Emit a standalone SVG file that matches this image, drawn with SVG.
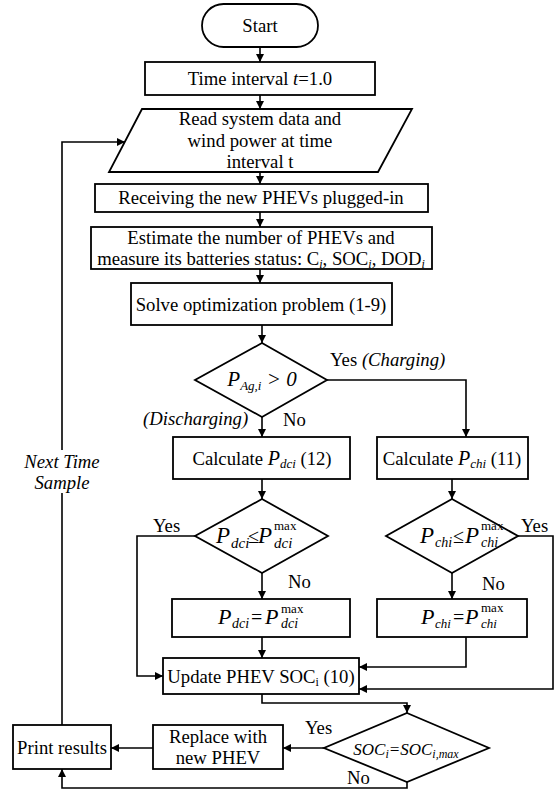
<svg xmlns="http://www.w3.org/2000/svg" width="555" height="791" viewBox="0 0 555 791" font-family="Liberation Serif, Times New Roman, serif" font-size="18.7">
<style>
.bx{fill:#fff;stroke:#000;stroke-width:1.8}
.ln{fill:none;stroke:#000;stroke-width:1.6}
.ar{marker-end:url(#ah)}
.it{font-style:italic}
.m{text-anchor:middle}
</style>
<defs>
<marker id="ah" viewBox="0 0 10 10" refX="10" refY="5" markerWidth="9" markerHeight="8" markerUnits="userSpaceOnUse" orient="auto">
<path d="M0,0 L10,5 L0,10 z" fill="#000"/>
</marker>
</defs>
<rect width="555" height="791" fill="#fff"/>
<g id="connectors">
<path class="ln ar" d="M260,47 V62"/>
<path class="ln ar" d="M260,95 V109"/>
<path class="ln ar" d="M260,172 V184"/>
<path class="ln ar" d="M260,212 V227"/>
<path class="ln ar" d="M260,269 V283"/>
<path class="ln ar" d="M262,325 V343"/>
<path class="ln ar" d="M262,417 V437"/>
<path class="ln ar" d="M327,380 H466 V437"/>
<path class="ln ar" d="M262,479 V499"/>
<path class="ln ar" d="M452,479 V499"/>
<path class="ln ar" d="M262,573 V599"/>
<path class="ln ar" d="M452,573 V599"/>
<path class="ln ar" d="M195,536 H137 V676 H163"/>
<path class="ln ar" d="M262,637 V658"/>
<path class="ln ar" d="M466,637 V667 H359"/>
<path class="ln ar" d="M518,536 H553 V689 H359"/>
<path class="ln ar" d="M262,694 V703 H407 V713"/>
<path class="ln ar" d="M324,748 H283"/>
<path class="ln ar" d="M153,748 H111"/>
<path class="ln ar" d="M407,782 V788 H62 V769"/>
<path class="ln" d="M62,725 V493"/>
<path class="ln ar" d="M62,450 V142 H125"/>
<text class="it m" x="62" y="468">Next Time</text>
<text class="it m" x="62" y="489">Sample</text>
<text x="330" y="366">Yes <tspan class="it">(Charging)</tspan></text>
<text class="it" x="143" y="425">(Discharging)</text>
<text x="283" y="426">No</text>
<text x="153" y="532">Yes</text>
<text x="288" y="588">No</text>
<text x="521" y="532">Yes</text>
<text x="482" y="590">No</text>
<text x="305" y="734">Yes</text>
<text x="347" y="784">No</text>
</g>
<g id="start">
<rect class="bx" x="202" y="4" width="116" height="43" rx="21.5"/>
<text class="m" x="260" y="32">Start</text>
</g>
<g id="time">
<rect class="bx" x="145" y="62" width="230" height="33"/>
<text class="m" x="260" y="85">Time interval <tspan class="it">t</tspan>=1.0</text>
</g>
<g id="read">
<polygon class="bx" points="142,109 412,109 378,172 109,172"/>
<text class="m" x="260" y="125">Read system data and</text>
<text class="m" x="260" y="147">wind power at time</text>
<text class="m" x="260" y="168">interval t</text>
</g>
<g id="receive">
<rect class="bx" x="95" y="184" width="333" height="28"/>
<text class="m" x="261" y="204">Receiving the new PHEVs plugged-in</text>
</g>
<g id="estimate">
<rect class="bx" x="91" y="227" width="341" height="42"/>
<text class="m" x="261" y="244">Estimate the number of PHEVs and</text>
<text class="m" x="261" y="265">measure its batteries status: C<tspan class="it" font-size="12" dy="3">i</tspan><tspan dy="-3">, SOC</tspan><tspan class="it" font-size="12" dy="3">i</tspan><tspan dy="-3">, DOD</tspan><tspan class="it" font-size="12" dy="3">i</tspan></text>
</g>
<g id="solve">
<rect class="bx" x="131" y="283" width="261" height="42"/>
<text class="m" x="261" y="311">Solve optimization problem (1-9)</text>
</g>
<g id="dec-pag">
<polygon class="bx" points="262,343 327,380 262,417 195,380"/>
<text class="it m" x="262" y="386" font-size="21">P<tspan font-size="13" dy="4">Ag,i</tspan><tspan dy="-4"> &gt; 0</tspan></text>
</g>
<g id="calc-dci">
<rect class="bx" x="173" y="437" width="177" height="42"/>
<text class="m" x="262" y="465">Calculate <tspan class="it" font-size="20">P</tspan><tspan class="it" font-size="13" dy="3">dci</tspan><tspan dy="-3"> (12)</tspan></text>
</g>
<g id="calc-chi">
<rect class="bx" x="377" y="437" width="151" height="42"/>
<text class="m" x="452" y="465">Calculate <tspan class="it" font-size="20">P</tspan><tspan class="it" font-size="13" dy="3">chi</tspan><tspan dy="-3"> (11)</tspan></text>
</g>
<g id="dec-dci">
<polygon class="bx" points="262,499 328,536 262,573 195,536"/>
<text class="it" x="216" y="543" font-size="23">P</text>
<text class="it" x="231" y="548" font-size="15">dci</text>
<text x="248" y="543" font-size="20">≤</text>
<text class="it" x="258" y="543" font-size="23">P</text>
<text x="274" y="530" font-size="13">max</text>
<text class="it" x="274" y="548" font-size="15">dci</text>
</g>
<g id="dec-chi">
<polygon class="bx" points="452,499 518,536 452,573 386,536"/>
<text class="it" x="420" y="543" font-size="23">P</text>
<text class="it" x="435" y="547" font-size="14">chi</text>
<text x="453" y="543" font-size="20">≤</text>
<text class="it" x="465" y="543" font-size="23">P</text>
<text x="481" y="530" font-size="13">max</text>
<text class="it" x="481" y="547" font-size="14">chi</text>
</g>
<g id="set-dci">
<rect class="bx" x="172" y="599" width="178" height="38"/>
<text class="it" x="218" y="624" font-size="22">P</text>
<text class="it" x="232" y="628" font-size="14">dci</text>
<text x="251" y="624" font-size="20">=</text>
<text class="it" x="265" y="624" font-size="22">P</text>
<text x="281" y="613" font-size="13">max</text>
<text class="it" x="281" y="628" font-size="14">dci</text>
</g>
<g id="set-chi">
<rect class="bx" x="377" y="599" width="150" height="38"/>
<text class="it" x="421" y="624" font-size="22">P</text>
<text class="it" x="435" y="628" font-size="13">chi</text>
<text x="453" y="624" font-size="20">=</text>
<text class="it" x="465" y="624" font-size="22">P</text>
<text x="481" y="612" font-size="13">max</text>
<text class="it" x="481" y="628" font-size="13">chi</text>
</g>
<g id="update">
<rect class="bx" x="163" y="658" width="196" height="36"/>
<text class="m" x="261" y="683">Update PHEV SOC<tspan font-size="12" dy="3">i</tspan><tspan dy="-3"> (10)</tspan></text>
</g>
<g id="dec-soc">
<polygon class="bx" points="407,713 489,748 407,782 324,748"/>
<text class="it m" x="406" y="755" font-size="17">SOC<tspan font-size="12" dy="3">i</tspan><tspan dy="-3">=SOC</tspan><tspan font-size="12" dy="3">i,max</tspan></text>
</g>
<g id="replace">
<rect class="bx" x="153" y="725" width="130" height="44"/>
<text class="m" x="218" y="743">Replace with</text>
<text class="m" x="218" y="764">new PHEV</text>
</g>
<g id="print">
<rect class="bx" x="13" y="725" width="98" height="44"/>
<text class="m" x="62" y="754">Print results</text>
</g>
</svg>
